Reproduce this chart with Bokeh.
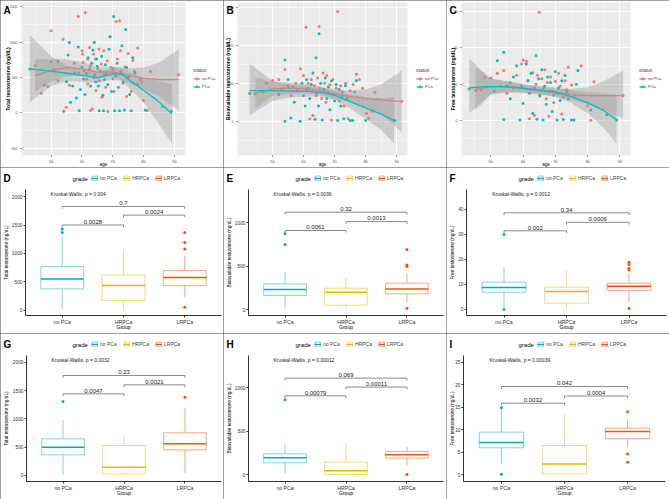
import math

from bokeh.plotting import figure
from bokeh.layouts import gridplot
from bokeh.models import ColumnDataSource, FixedTicker, Label, Legend, LegendItem
from bokeh.core.properties import value
from bokeh.embed import file_html
from bokeh.resources import INLINE

FONT = "Liberation Sans"
RED, TEAL = "#F8766D", "#00BFC4"
GRADE_COLORS = ["#00AFBB", "#E7B800", "#FC4E07"]
GROUPS = ["no PCa", "HRPCa", "LRPCa"]
BORDER = {"outline": "1px solid #3a3a3a", "outline-offset": "-1px"}

# ---------------- age vs testosterone, by status ----------------
# (age, total testosterone ng/dL)
A_no = [(44.8, 667), (46.8, 277), (47.8, 395), (49.0, 371), (50.0, 1161), (50.0, 724), (51.0, 611),
        (52.2, 456), (53.9, 1043), (54.9, 80), (56.0, 390), (57.5, 700), (58.8, 1363), (59.0, 560),
        (60.1, 879), (60.2, 832), (60.4, 714), (60.6, 597), (61.1, 1419), (61.5, 480), (61.9, 761),
        (61.9, 409), (62.5, 926), (62.8, 667), (62.8, 33), (63.4, 56), (63.8, 832), (63.9, 503),
        (64.4, 761), (64.6, 315), (65.1, 620), (65.5, 902), (65.7, 456), (66.3, 691), (66.5, 221),
        (67.1, 879), (67.3, 550), (67.7, 362), (68.2, 738), (68.4, 19), (69.0, 1076), (69.5, 640),
        (70.0, 480), (70.4, 300), (71.1, 1292), (71.5, 760), (72.2, 1302), (72.5, 880), (72.8, 560),
        (73.3, 420), (74.0, 650), (74.5, 230), (75.0, 840), (75.6, 520), (76.0, 300), (76.5, 740),
        (77.0, 590), (78.1, 917), (79.0, 470), (79.5, 432), (80.0, 174), (81.2, 33), (82.2, 583),
        (91.4, 540)]
A_pc = [(43.1, 620), (52.2, 730), (54.1, 23), (55.0, 440), (55.5, 820), (55.9, 996), (56.3, 150),
        (57.0, 380), (57.6, 560), (58.2, 210), (58.8, 930), (59.1, 30), (59.5, 330), (60.0, 650),
        (60.5, 480), (61.0, 260), (61.5, 560), (62.0, 780), (62.4, 620), (62.8, 380), (63.2, 700),
        (63.6, 890), (64.0, 1000), (64.2, 540), (64.5, 440), (64.8, 760), (65.0, 660), (65.3, 380),
        (65.6, 30), (66.0, 590), (66.4, 800), (66.8, 250), (67.0, 30), (67.3, 470), (67.6, 680),
        (68.0, 560), (68.4, 400), (68.8, 900), (69.2, 1076), (69.6, 300), (70.0, 620), (70.3, 1363),
        (70.6, 30), (71.0, 520), (71.4, 700), (71.8, 360), (72.2, 30), (72.6, 580), (73.0, 950),
        (73.4, 440), (73.8, 40), (74.2, 1180), (74.5, 640), (75.0, 500), (75.5, 260), (76.0, 30),
        (76.5, 780), (77.2, 560), (78.0, 400), (80.5, 40), (86.3, 89), (89.0, 20)]

# (age, bioavailable testosterone ng/dL)
B_no = [(44.4, 216), (47.0, 230), (48.0, 300), (50.0, 321), (52.0, 329), (53.0, 250), (54.0, 408),
        (55.0, 280), (56.0, 200), (57.5, 300), (59.0, 413), (60.0, 360), (60.8, 742), (61.0, 250),
        (61.5, 300), (62.0, 20), (62.5, 330), (63.0, 45), (63.5, 280), (64.0, 200), (64.5, 340),
        (65.0, 747), (65.2, 260), (65.8, 180), (66.3, 380), (66.8, 300), (67.2, 150), (67.5, 360),
        (68.0, 230), (68.5, 290), (69.0, 10), (69.5, 330), (70.0, 210), (70.5, 260), (71.0, 866),
        (71.5, 160), (72.0, 280), (72.5, 230), (73.0, 120), (73.5, 300), (74.4, 20), (75.0, 240),
        (76.0, 290), (77.0, 370), (78.0, 329), (79.0, 260), (80.3, 63), (81.0, 24), (82.2, 79),
        (83.0, 229), (91.6, 158)]
B_pc = [(42.6, 218), (52.0, 210), (54.0, 484), (54.0, 0), (55.0, 330), (55.9, 26), (56.5, 270),
        (57.0, 150), (58.0, 240), (58.9, 0), (59.5, 300), (60.0, 200), (60.5, 120), (61.0, 330),
        (61.5, 260), (62.0, 180), (62.5, 290), (63.0, 380), (63.7, 15), (64.0, 500), (64.3, 220),
        (64.8, 120), (65.0, 690), (65.5, 300), (66.0, 10), (66.5, 250), (67.0, 340), (67.5, 180),
        (68.0, 270), (68.5, 90), (69.0, 320), (69.5, 220), (70.0, 160), (70.5, 290), (71.0, 5),
        (71.5, 250), (72.0, 120), (72.5, 200), (73.0, 20), (73.5, 280), (74.0, 180), (75.0, 5),
        (75.8, 5), (76.5, 230), (77.0, 321), (80.0, 5), (89.4, 5)]

# (age, free testosterone ng/dL)
C_no = [(45.3, 8.3), (47.0, 8.4), (48.0, 11.9), (50.0, 11.7), (52.0, 13.0), (53.0, 9.5), (54.0, 13.8),
        (55.0, 7.5), (56.0, 10.5), (57.0, 9.0), (58.0, 12.5), (59.5, 15.6), (60.0, 16.7), (61.0, 16.3),
        (61.5, 11.0), (62.0, 0.5), (62.5, 8.5), (63.0, 13.2), (63.5, 1.5), (64.0, 10.0), (64.5, 12.5),
        (65.0, 29.8), (65.2, 7.0), (65.8, 11.5), (66.3, 9.0), (66.8, 14.0), (67.2, 6.0), (67.5, 10.5),
        (68.0, 1.2), (68.5, 12.0), (69.0, 8.0), (69.5, 5.0), (70.0, 10.8), (70.5, 7.5), (71.0, 13.0),
        (71.5, 9.5), (72.0, 1.8), (72.5, 6.5), (73.0, 11.0), (73.5, 8.5), (74.0, 14.7), (75.0, 9.8),
        (76.0, 7.0), (78.0, 15.1), (80.0, 4.1), (81.0, 0.1), (82.0, 10.7), (91.0, 6.9)]
C_pc = [(43.3, 8.7), (51.0, 8.1), (52.0, 16.5), (54.0, 18.8), (54.0, 0.3), (55.0, 9.5), (56.0, 6.0),
        (57.0, 12.0), (58.0, 15.1), (59.0, 0.2), (59.5, 9.5), (60.0, 4.8), (61.0, 15.6), (61.5, 11.0),
        (62.0, 7.5), (62.5, 13.0), (63.0, 2.0), (63.5, 9.0), (64.0, 17.9), (64.3, 0.4), (64.8, 11.5),
        (65.2, 6.8), (65.8, 14.0), (66.2, 0.2), (66.7, 9.5), (67.2, 4.5), (67.6, 12.0), (68.0, 8.0),
        (68.5, 10.5), (69.0, 2.5), (69.5, 7.0), (70.0, 13.5), (70.5, 0.2), (71.0, 9.0), (71.5, 5.5),
        (72.0, 11.0), (72.5, 0.3), (73.0, 12.4), (73.5, 8.0), (74.0, 6.0), (75.0, 0.2), (75.8, 0.2),
        (76.5, 10.0), (77.0, 13.8), (81.0, 2.9), (86.0, 1.6), (89.0, 0.2)]

# smoothed trends with confidence band: age, fit, lower, upper
A_fit_age_no = [44.8, 50, 55, 60, 65, 70, 75, 80, 85, 91.4]
A_fit_no = [527, 600, 640, 625, 575, 580, 530, 490, 470, 470]
A_lo_no = [300, 440, 520, 530, 500, 505, 430, 340, 230, 40]
A_hi_no = [760, 760, 760, 720, 650, 655, 630, 640, 710, 900]
A_fit_age_pc = [43.1, 50, 55, 60, 65, 70, 73, 76, 80, 84, 89.2]
A_fit_pc = [620, 590, 560, 530, 495, 555, 545, 440, 320, 190, -14]
A_lo_pc = [150, 380, 450, 440, 420, 470, 450, 320, 150, -100, -440]
A_hi_pc = [1100, 800, 670, 620, 570, 640, 640, 560, 490, 460, 400]

B_fit_age_no = [44.4, 50, 55, 60, 65, 70, 75, 80, 85, 91.6]
B_fit_no = [221, 255, 262, 258, 243, 215, 195, 180, 168, 155]
B_lo_no = [97, 200, 215, 220, 210, 180, 150, 110, 60, -87]
B_hi_no = [347, 310, 305, 296, 276, 250, 240, 250, 290, 400]
B_fit_age_pc = [42.6, 50, 55, 60, 65, 70, 75, 80, 85, 89.2]
B_fit_pc = [242, 242, 238, 237, 230, 205, 155, 105, 55, 5]
B_lo_pc = [45, 160, 185, 195, 195, 165, 100, 20, -70, -179]
B_hi_pc = [453, 320, 290, 280, 265, 245, 210, 190, 180, 190]

C_fit_age_no = [45.3, 50, 55, 60, 65, 70, 75, 80, 85, 91]
C_fit_no = [8.6, 9.3, 9.3, 8.9, 8.2, 7.7, 7.2, 6.9, 6.9, 6.9]
C_lo_no = [2.8, 7.2, 7.8, 7.7, 7.2, 6.6, 5.7, 4.6, 3.0, 0.5]
C_hi_no = [14.7, 11.5, 10.8, 10.1, 9.2, 8.8, 8.7, 9.2, 10.8, 13.8]
C_fit_age_pc = [43.3, 50, 55, 60, 65, 70, 75, 80, 85, 89]
C_fit_pc = [9.0, 9.4, 9.3, 8.9, 8.4, 7.9, 6.6, 4.9, 2.8, 0.2]
C_lo_pc = [2.0, 7.3, 7.8, 7.7, 7.3, 6.6, 4.8, 2.0, -2.0, -6.4]
C_hi_pc = [17.0, 11.5, 10.8, 10.0, 9.5, 9.2, 8.4, 7.8, 7.5, 7.1]

# ---------------- box plots by grade ----------------
D_lo, D_q1, D_med, D_q3, D_hi = [30, 17, 233], [379, 175, 437], [554, 437, 577], [770, 624, 700], [1300, 1050, 962]
D_out = [(1, 1370), (1, 1430), (3, 1370), (3, 1195), (3, 1079), (3, 58)]
D_pairs = [(1, 2, 1500, "0.0028"), (2, 3, 1673, "0.0024"), (1, 3, 1825, "0.7")]
D_kw = ("Kruskal-Wallis, p = 0.004", 2040)

E_lo, E_q1, E_med, E_q3, E_hi = [8, 8, 85], [162, 50, 181], [231, 200, 238], [296, 246, 304], [431, 373, 411]
E_out = [(1, 750), (1, 873), (3, 692), (3, 515), (3, 496), (3, 15)]
E_pairs = [(1, 2, 912, "0.0061"), (2, 3, 1015, "0.0013"), (1, 3, 1123, "0.32")]
E_kw = ("Kruskal-Wallis, p = 0.0036", 1335)

F_lo, F_q1, F_med, F_q3, F_hi = [0.9, 0.3, 2.9], [6.9, 2.5, 7.6], [8.8, 7.2, 9.3], [10.9, 8.9, 10.5], [16.9, 15.6, 14.6]
F_out = [(1, 29.9), (1, 0.1), (3, 18.9), (3, 18.0), (3, 16.5), (3, 15.8), (3, 0.4)]
F_pairs = [(1, 2, 31.4, "0.002"), (2, 3, 34.8, "0.0006"), (1, 3, 38.6, "0.34")]
F_kw = ("Kruskal-Wallis, p = 0.0012", 46.1)

G_lo, G_q1, G_med, G_q3, G_hi = [18, 18, 41], [365, 29, 453], [500, 147, 559], [647, 529, 753], [982, 706, 1194]
G_out = [(1, 1306), (3, 1382)]
G_pairs = [(1, 2, 1441, "0.0047"), (2, 3, 1600, "0.0021"), (1, 3, 1765, "0.23")]
G_kw = ("Kruskal-Wallis, p = 0.0032", 2041)

H_lo, H_q1, H_med, H_q3, H_hi = [19, 4, 107], [138, 4, 192], [195, 46, 230], [241, 146, 268], [356, 370, 326]
H_out = [(1, 862), (3, 4)]
H_pairs = [(1, 2, 908, "0.00079"), (2, 3, 1008, "0.00011"), (1, 3, 1111, "0.069")]
H_kw = ("Kruskal-Wallis, p = 0.00012", 1322)

I_lo, I_q1, I_med, I_q3, I_hi = [2.4, 0.2, 6.1], [6.0, 0.2, 8.0], [7.17, 2.4, 9.6], [9.47, 6.5, 10.35], [14.6, 13.5, 12.4]
I_out = [(1, 14.9), (1, 0.1), (3, 14.0), (3, 4.6), (3, 2.8)]
I_pairs = [(1, 2, 15.9, "0.0032"), (2, 3, 17.5, "0.0004"), (1, 3, 19.6, "0.042")]
I_kw = ("Kruskal-Wallis, p = 0.00039", 25.5)

Y_TOTAL = "Total testosterone (ng/dL)"
Y_BIO = "Bioavailable testosterone (ng/dL)"
Y_FREE = "Free testosterone (ng/dL)"


def canvas_range(lo, hi, px_lo, px_hi, size):
    """Extend a data interval that spans pixels [px_lo, px_hi] to the whole canvas [0, size]."""
    s = (hi - lo) / (px_hi - px_lo)
    return (lo - px_lo * s, hi + (size - px_hi) * s)


def canvas_yrange(lo, hi, px_top, px_bottom, size):
    s = (hi - lo) / (px_bottom - px_top)
    return (lo - (size - px_bottom) * s, hi + px_top * s)


def base_figure(W, H, xr, yr):
    p = figure(width=W, height=H, x_range=xr, y_range=yr, output_backend="svg",
               toolbar_location=None, title=None, min_border=0, min_border_left=0,
               min_border_right=0, min_border_top=0, min_border_bottom=0, styles=BORDER)
    p.outline_line_color = None
    p.background_fill_color = "white"
    p.border_fill_color = "white"
    return p


def style_axis(ax, tick_size, tick_color):
    ax.major_label_text_font = FONT
    ax.major_label_text_font_size = tick_size
    ax.major_label_text_color = tick_color
    ax.major_label_standoff = 1
    ax.minor_tick_line_color = None
    ax.major_tick_out = 2
    ax.major_tick_in = 0


def screen_text(p, text, x, y, size, H, bold=False, baseline="top", align="left", angle=0.0):
    p.add_layout(Label(x=x, y=H - y, x_units="screen", y_units="screen", text=text,
                       text_font=FONT, text_font_size=size,
                       text_font_style="bold" if bold else "normal",
                       text_baseline=baseline, text_align=align, text_color="black",
                       angle=angle, angle_units="rad"))


def scatter_panel(letter, ylabel, no_pts, pc_pts, fits, xd, yd, yticks, yminor, fl, fr, title_x):
    W, H, ft, fb = 223, 167, 2, 155
    p = base_figure(W, H, canvas_range(xd[0], xd[1], fl, fr, W), canvas_yrange(yd[0], yd[1], ft, fb, H))
    # grey panel behind the grid
    p.quad(left=[xd[0]], right=[xd[1]], bottom=[yd[0]], top=[yd[1]], fill_color="#EBEBEB",
           line_color=None, level="image")
    p.xaxis.ticker = FixedTicker(ticks=[50, 60, 70, 80, 90], minor_ticks=[45, 55, 65, 75, 85])
    p.yaxis.ticker = FixedTicker(ticks=yticks, minor_ticks=yminor)
    for g in (p.xgrid[0], p.ygrid[0]):
        g.grid_line_color = "white"
        g.grid_line_width = 0.9
        g.minor_grid_line_color = "white"
        g.minor_grid_line_width = 0.45
    for ax in (p.xaxis[0], p.yaxis[0]):
        style_axis(ax, "3.5px", "#4D4D4D")
        ax.axis_line_color = None
        ax.major_tick_line_color = "#333333"
        ax.major_tick_out = 1
        ax.major_label_standoff = 0
    p.xaxis.major_label_text_font_size = "4px"
    p.xaxis.fixed_location = yd[0]
    p.yaxis.fixed_location = xd[0]
    p.xaxis.bounds = xd
    p.yaxis.bounds = yd
    # axis titles
    screen_text(p, "age", (fl + fr) / 2, 164, "4.6px", H, baseline="middle", align="center")
    screen_text(p, ylabel, title_x, (ft + fb) / 2, "5.2px", H, bold=True, baseline="middle",
                align="center", angle=math.pi / 2)

    src_no = ColumnDataSource(dict(age=[a for a, _ in no_pts], v=[v for _, v in no_pts]))
    src_pc = ColumnDataSource(dict(age=[a for a, _ in pc_pts], v=[v for _, v in pc_pts]))
    pts_no = p.scatter("age", "v", source=src_no, size=3, color=RED, line_width=0)
    pts_pc = p.scatter("age", "v", source=src_pc, size=3, color=TEAL, line_width=0)

    (fa_no, f_no, lo_no, hi_no), (fa_pc, f_pc, lo_pc, hi_pc) = fits
    p.varea(x=fa_no, y1=lo_no, y2=hi_no, fill_color="#999999", fill_alpha=0.4)
    ln_no = p.line(fa_no, f_no, color=RED, line_width=1.3)
    p.varea(x=fa_pc, y1=lo_pc, y2=hi_pc, fill_color="#999999", fill_alpha=0.4)
    ln_pc = p.line(fa_pc, f_pc, color=TEAL, line_width=1.3)

    key_bg = p.rect(x=[], y=[], width=1, height=1, fill_color="#C6C6C6", line_color=None)
    legend = Legend(items=[LegendItem(label="no PCa", renderers=[key_bg, ln_no, pts_no]),
                           LegendItem(label="PCa", renderers=[key_bg, ln_pc, pts_pc])],
                    location=(193, H - 90), orientation="vertical", title="status",
                    title_text_font=FONT, title_text_font_size="5px", title_text_font_style="normal",
                    label_text_font=FONT, label_text_font_size="4px",
                    glyph_width=7, glyph_height=7, label_height=7, label_standoff=2,
                    spacing=1, padding=0, margin=0, title_standoff=2,
                    border_line_color=None, background_fill_alpha=0)
    p.add_layout(legend)
    screen_text(p, letter, 3, 4, "10px", H, bold=True)
    return p


def box_panel(letter, ylabel, stats, outliers, pairs, kw, yd, yticks, fl, fr):
    W, H, ft, fb = 223, 166, 22, 148
    xd = (0.4, 3.6)
    lo, q1, med, q3, hi = stats
    p = base_figure(W, H, canvas_range(xd[0], xd[1], fl, fr, W), canvas_yrange(yd[0], yd[1], ft, fb, H))
    p.grid.visible = False
    p.xaxis.ticker = FixedTicker(ticks=[1, 2, 3])
    p.xaxis.major_label_overrides = {1: GROUPS[0], 2: GROUPS[1], 3: GROUPS[2]}
    p.yaxis.ticker = FixedTicker(ticks=yticks)
    for ax in (p.xaxis[0], p.yaxis[0]):
        style_axis(ax, "4.8px", "#333333")
        ax.axis_line_color = "black"
        ax.axis_line_width = 0.8
        ax.major_tick_line_color = "black"
        ax.major_tick_line_width = 0.8
    p.xaxis.fixed_location = yd[0]
    p.yaxis.fixed_location = xd[0]
    p.xaxis.bounds = xd
    p.yaxis.bounds = yd
    p.xaxis.major_label_text_font_size = "5.2px"
    # axis titles
    screen_text(p, "Group", (fl + fr) / 2, 159, "5px", H, baseline="middle", align="center")
    screen_text(p, ylabel, 6, (ft + fb) / 2, "4.8px", H, baseline="middle", align="center",
                angle=math.pi / 2)

    xs = [1, 2, 3]
    hw = 0.35
    src = ColumnDataSource(dict(x=xs, left=[x - hw for x in xs], right=[x + hw for x in xs],
                                lo=lo, q1=q1, med=med, q3=q3, hi=hi, color=GRADE_COLORS))
    p.segment("x", "q3", "x", "hi", source=src, line_color="color", line_alpha=0.5, line_width=1)
    p.segment("x", "q1", "x", "lo", source=src, line_color="color", line_alpha=0.5, line_width=1)
    box_r = p.quad(left="left", right="right", bottom="q1", top="q3", source=src,
                   fill_color="white", line_color="color", line_alpha=0.5, line_width=1)
    med_r = p.segment("left", "med", "right", "med", source=src, line_color="color", line_width=1.5)
    out_src = ColumnDataSource(dict(x=[o[0] for o in outliers], y=[o[1] for o in outliers],
                                    color=[GRADE_COLORS[o[0] - 1] for o in outliers]))
    p.scatter("x", "y", source=out_src, size=3, color="color", line_width=0)

    span = yd[1] - yd[0]
    tip = 0.018 * span
    bx, by = [], []
    for a, b, y, _ in pairs:
        bx.append([a, a, b, b])
        by.append([y - tip, y, y, y - tip])
    p.multi_line(bx, by, line_color="#707070", line_width=0.8)
    p.text(x=[(a + b) / 2 for a, b, _, _ in pairs], y=[y + 0.01 * span for _, _, y, _ in pairs],
           text=[t for _, _, _, t in pairs], text_font=value(FONT), text_font_size="6px",
           text_align="center", text_baseline="bottom", text_color="#222222")
    p.text(x=[0.81], y=[kw[1]], text=[kw[0]], text_font=value(FONT), text_font_size="5px",
           text_align="left", text_baseline="middle", text_color="#222222")

    legend = Legend(items=[LegendItem(label=g, renderers=[box_r, med_r], index=i)
                           for i, g in enumerate(GROUPS)],
                    location=(91, H - 14), orientation="horizontal",
                    label_text_font=FONT, label_text_font_size="5px",
                    glyph_width=7, glyph_height=6, label_height=6, label_standoff=2,
                    spacing=3, padding=0, margin=0,
                    border_line_color=None, background_fill_alpha=0)
    p.add_layout(legend)
    screen_text(p, "grade", 72, 11, "6px", H, baseline="middle")
    screen_text(p, letter, 3, 5, "10px", H, bold=True)
    return p


pA = scatter_panel("A", Y_TOTAL, A_no, A_pc,
                   ((A_fit_age_no, A_fit_no, A_lo_no, A_hi_no), (A_fit_age_pc, A_fit_pc, A_lo_pc, A_hi_pc)),
                   (40.4, 93.6), (-605, 1562), [-500, 0, 500, 1000, 1500], [-250, 250, 750, 1250],
                   21, 185, 7)
pB = scatter_panel("B", Y_BIO, B_no, B_pc,
                   ((B_fit_age_no, B_fit_no, B_lo_no, B_hi_no), (B_fit_age_pc, B_fit_pc, B_lo_pc, B_hi_pc)),
                   (38.7, 93.5), (-271, 937), [0, 300, 600, 900], [-150, 150, 450, 750],
                   14, 184, 4.2)
pC = scatter_panel("C", Y_FREE, C_no, C_pc,
                   ((C_fit_age_no, C_fit_no, C_lo_no, C_hi_no), (C_fit_age_pc, C_fit_pc, C_lo_pc, C_hi_pc)),
                   (40.9, 93.3), (-9.6, 32.5), [0, 10, 20, 30], [-5, 5, 15, 25],
                   15, 184, 6)

pD = box_panel("D", Y_TOTAL, (D_lo, D_q1, D_med, D_q3, D_hi), D_out, D_pairs, D_kw,
               (-88, 2123), [0, 500, 1000, 1500, 2000], 25, 221)
pE = box_panel("E", Y_BIO, (E_lo, E_q1, E_med, E_q3, E_hi), E_out, E_pairs, E_kw,
               (-69, 1385), [0, 500, 1000], 25, 220)
pF = box_panel("F", Y_FREE, (F_lo, F_q1, F_med, F_q3, F_hi), F_out, F_pairs, F_kw,
               (-2.4, 47.9), [0, 10, 20, 30, 40], 20, 220)
pG = box_panel("G", Y_TOTAL, (G_lo, G_q1, G_med, G_q3, G_hi), G_out, G_pairs, G_kw,
               (-106, 2118), [0, 500, 1000, 1500, 2000], 26, 221)
pH = box_panel("H", Y_BIO, (H_lo, H_q1, H_med, H_q3, H_hi), H_out, H_pairs, H_kw,
               (-77, 1371), [0, 500, 1000], 25, 220)
pI = box_panel("I", Y_FREE, (I_lo, I_q1, I_med, I_q3, I_hi), I_out, I_pairs, I_kw,
               (-1.5, 26.5), [0, 5, 10, 15, 20, 25], 17, 219)

grid = gridplot([[pA, pB, pC], [pD, pE, pF], [pG, pH, pI]], toolbar_location=None)

with open("out.html", "w") as f:
    f.write(file_html(grid, INLINE))
